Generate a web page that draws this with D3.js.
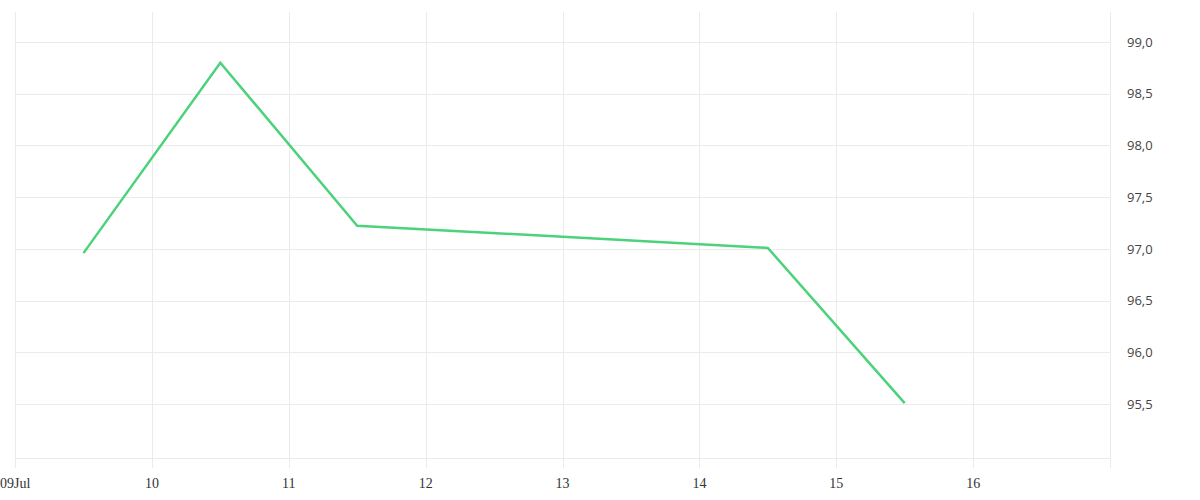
<!DOCTYPE html>
<html>
<head>
<meta charset="utf-8">
<script src="https://cdn.jsdelivr.net/npm/d3@7"></script>
<style>
html,body{margin:0;padding:0;background:#fff;}
svg{display:block;}
</style>
</head>
<body>
<svg id="chart" width="1200" height="500"></svg>
<script>
// Data
const dates = ["2024-07-09T12:00", "2024-07-10T12:00", "2024-07-11T12:00", "2024-07-14T12:00", "2024-07-15T12:00"];
const values = [96.96, 98.80, 97.225, 97.01, 95.51];
const xTickDates = ["2024-07-09", "2024-07-10", "2024-07-11", "2024-07-12", "2024-07-13", "2024-07-14", "2024-07-15", "2024-07-16", "2024-07-17"];
const xTickLabels = ["09Jul", "10", "11", "12", "13", "14", "15", "16", ""];
const yTicks = [95.5, 96.0, 96.5, 97.0, 97.5, 98.0, 98.5, 99.0];
const yDomain = [94.98, 99.29];
const xDomain = ["2024-07-09", "2024-07-17"];

(function () {
const parse = d3.isoParse;
const svg = d3.select("#chart");
const mLeft = 15, mRight = 1110, mTop = 12, mBottom = 458;

const x = d3.scaleTime().domain(xDomain.map(parse)).range([mLeft, mRight]);
const y = d3.scaleLinear().domain(yDomain).range([mBottom, mTop]);

const gridColor = "#ebebeb";

// horizontal grid lines
const hg = svg.append("g");
hg.selectAll("line").data(yTicks).join("line")
  .attr("x1", mLeft).attr("x2", mRight)
  .attr("y1", d => Math.round(y(d)) + 0.5).attr("y2", d => Math.round(y(d)) + 0.5)
  .attr("stroke", gridColor).attr("stroke-width", 1);
// bottom baseline
hg.append("line")
  .attr("x1", mLeft).attr("x2", mRight)
  .attr("y1", mBottom + 0.5).attr("y2", mBottom + 0.5)
  .attr("stroke", gridColor).attr("stroke-width", 1);

// vertical grid lines (extend below as ticks)
const vg = svg.append("g");
vg.selectAll("line").data(xTickDates).join("line")
  .attr("x1", d => Math.round(x(parse(d))) + 0.5).attr("x2", d => Math.round(x(parse(d))) + 0.5)
  .attr("y1", mTop).attr("y2", mBottom + 10)
  .attr("stroke", gridColor).attr("stroke-width", 1);

// x labels
svg.append("g").selectAll("text").data(xTickDates).join("text")
  .attr("x", (d, i) => i === 0 ? 0 : x(parse(d)))
  .attr("y", 488)
  .attr("text-anchor", (d, i) => i === 0 ? "start" : "middle")
  .attr("font-family", "'Liberation Serif', 'DejaVu Serif', serif")
  .attr("font-size", 14)
  .attr("fill", "#333")
  .text((d, i) => xTickLabels[i]);

// y labels
svg.append("g").selectAll("text").data(yTicks).join("text")
  .attr("x", 1127)
  .attr("y", d => y(d))
  .attr("dy", "0.35em")
  .attr("text-anchor", "start")
  .attr("font-family", "'Open Sans', 'Noto Sans', sans-serif")
  .attr("font-size", 13)
  .attr("fill", "#444")
  .text(d => d.toFixed(1).replace(".", ","));

// line
const line = d3.line()
  .x((d, i) => x(parse(dates[i])))
  .y(d => y(d));
svg.append("path")
  .datum(values)
  .attr("d", line)
  .attr("fill", "none")
  .attr("stroke", "#4cd27b")
  .attr("stroke-width", 2.5)
  .attr("stroke-linejoin", "miter");
})();
</script>
</body>
</html>
